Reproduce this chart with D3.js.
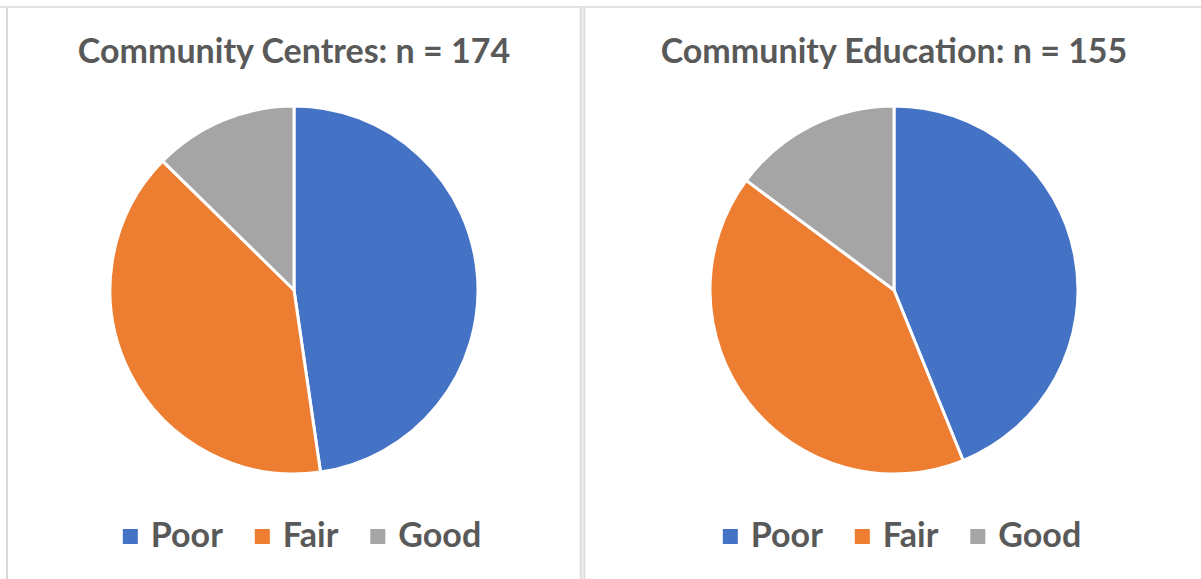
<!DOCTYPE html>
<html>
<head>
<meta charset="utf-8">
<script src="https://cdn.jsdelivr.net/npm/d3@7"></script>
<style>
  html, body { margin: 0; padding: 0; background: #fff; }
  svg { display: block; }
  text { font-family: Lato, "Open Sans", sans-serif; font-weight: 700; fill: #595959; }
</style>
</head>
<body>
<svg id="chart" width="1201" height="579"></svg>
<script>
// Ratings categories and counts per facility type
const categories = ["Poor", "Fair", "Good"];
const colours = ["#4472C4", "#ED7D31", "#A5A5A5"];
const titles = ["Community Centres: n = 174", "Community Education: n = 155"];
const centresCounts = [83, 69, 22];
const educationCounts = [68, 64, 23];

const svg = d3.select("#chart");
const W = 1201, H = 579;

// Panel frames
const frame = svg.append("g");
frame.append("line").attr("x1", 0).attr("x2", W).attr("y1", 7).attr("y2", 7)
  .attr("stroke", "#d9d9d9").attr("stroke-width", 1.5);
frame.append("line").attr("x1", 7).attr("x2", 7).attr("y1", 7).attr("y2", H)
  .attr("stroke", "#d9d9d9").attr("stroke-width", 2);
frame.append("rect").attr("x", 580).attr("y", 7).attr("width", 5).attr("height", H - 7)
  .attr("fill", "#ececec");
frame.append("line").attr("x1", 580.5).attr("x2", 580.5).attr("y1", 7).attr("y2", H)
  .attr("stroke", "#d9d9d9").attr("stroke-width", 1.5);
frame.append("line").attr("x1", 584.5).attr("x2", 584.5).attr("y1", 7).attr("y2", H)
  .attr("stroke", "#d9d9d9").attr("stroke-width", 1.5);

const colour = d3.scaleOrdinal().domain(categories).range(colours);
const pie = d3.pie().sort(null).value(d => d.value);
const radius = 184;
const arc = d3.arc().innerRadius(0).outerRadius(radius);

const panels = [
  { cx: 294, title: titles[0], counts: centresCounts },
  { cx: 894, title: titles[1], counts: educationCounts }
];

panels.forEach(p => {
  const g = svg.append("g");

  g.append("text")
    .attr("x", p.cx).attr("y", 63)
    .attr("text-anchor", "middle")
    .style("font-size", "34px")
    .text(p.title);

  const data = categories.map((c, i) => ({ cat: c, value: p.counts[i] }));
  g.append("g")
    .attr("transform", `translate(${p.cx},290)`)
    .selectAll("path")
    .data(pie(data))
    .join("path")
    .attr("d", arc)
    .attr("fill", d => colour(d.data.cat))
    .attr("stroke", "#fff")
    .attr("stroke-width", 3)
    .attr("stroke-linejoin", "round");

  // Legend: measure labels, then centre the row under the pie
  const leg = g.append("g");
  const items = leg.selectAll("g").data(categories).join("g");
  items.append("rect").attr("width", 15).attr("height", 15)
    .attr("y", 529).attr("fill", d => colour(d));
  const labels = items.append("text")
    .attr("y", 547)
    .style("font-size", "34px")
    .text(d => d);
  const widths = [];
  labels.each(function () { widths.push(this.getComputedTextLength()); });
  const sq = 15, gapIn = 13, gapOut = 32;
  const total = widths.reduce((a, w) => a + sq + gapIn + w, 0) + gapOut * (widths.length - 1);
  let x = p.cx - total / 2 + 8;
  items.each(function (d, i) {
    d3.select(this).attr("transform", `translate(${x},0)`);
    d3.select(this).select("text").attr("x", sq + gapIn);
    x += sq + gapIn + widths[i] + gapOut;
  });
});
</script>
</body>
</html>
